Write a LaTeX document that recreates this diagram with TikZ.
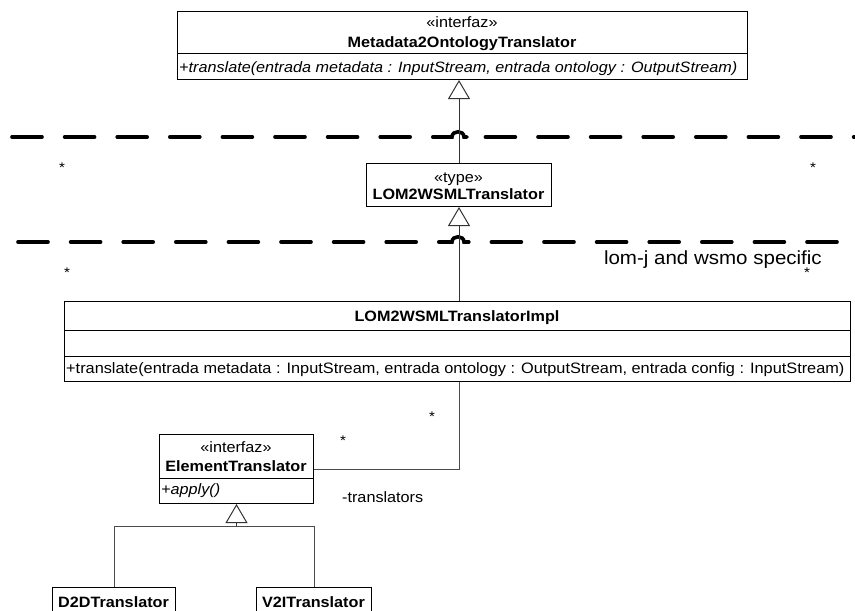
\documentclass[tikz,border=0pt]{standalone}
\usepackage{fontspec}
\setmainfont{Liberation Sans}[FakeStretch=1.08]
\usetikzlibrary{arrows.meta,calc}
\begin{document}
\begin{tikzpicture}[x=1pt,y=-1pt,
  box/.style={draw=black, line width=1pt, inner sep=0pt, anchor=north west},
  txt/.style={inner sep=0pt, anchor=base, font=\fontsize{15}{18}\selectfont},
  txtl/.style={inner sep=0pt, anchor=base west, font=\fontsize{15}{18}\selectfont},
  star/.style={inner sep=0pt, anchor=base, font=\fontsize{14}{16}\selectfont},
  sep/.style={line width=3.6pt, line cap=round, dash pattern=on 30pt off 22.6pt},
  hump/.style={line width=3.6pt, line cap=round},
  gen/.style={draw=black!80, line width=0.9pt, -{Triangle[open, length=19pt, width=22pt, line width=1pt]}},
  assoc/.style={draw=black!70, line width=0.9pt},
  divider/.style={line width=1pt}
]
\useasboundingbox (0,0) rectangle (855,611);

% separator lines
\draw[sep] (12,137) -- (858,137);
\draw[white, line width=5pt] (451,137) -- (465,137);
\draw[hump] (449,137) -- (452,137) .. controls (452,130) and (464,130) .. (464,137) -- (467,137);
\draw[sep] (18,242) -- (837,242);
\draw[white, line width=5pt] (451,242) -- (465,242);
\draw[hump] (449,242) -- (452,242) .. controls (452,235) and (464,235) .. (464,242) -- (467,242);

% stars and label of the separators
\node[star] (s1) at (62,172) {*};
\node[star] (s2) at (813,172) {*};
\node[star] (s3) at (67,277) {*};
\node[star] (s4) at (807,277) {*};
\node[inner sep=0pt, anchor=base east, font=\fontsize{19}{22}\selectfont] (lbl) at (822,264) {lom-j and wsmo specific};

% top interface
\node[box, minimum width=570pt, minimum height=68pt] (top) at (177,11) {};
\draw[divider] (top.west |- 0,53) -- (top.east |- 0,53);
\node[txt] (topst) at (462,27) {«interfaz»};
\node[txt, font=\fontsize{15}{18}\selectfont\bfseries] (topnm) at (462,47) {Metadata2OntologyTranslator};
\node[txtl, font=\fontsize{15}{18}\selectfont\itshape] (topop) at (179,72) {+translate(entrada metadata : InputStream, entrada ontology : OutputStream)};

% type
\node[box, minimum width=185pt, minimum height=43pt] (lom) at (366,163) {};
\node[txt] (lomst) at (458.5,182) {«type»};
\node[txt, font=\fontsize{15}{18}\selectfont\bfseries] (lomnm) at (458.5,199) {LOM2WSMLTranslator};

% impl
\node[box, minimum width=786pt, minimum height=80pt] (impl) at (64,301) {};
\draw[divider] (impl.west |- 0,330) -- (impl.east |- 0,330);
\draw[divider] (impl.west |- 0,356) -- (impl.east |- 0,356);
\node[txt, font=\fontsize{15}{18}\selectfont\bfseries] (implnm) at (457,321) {LOM2WSMLTranslatorImpl};
\node[txtl, font=\fontsize{15.1}{18}\selectfont] (implop) at (66,373) {+translate(entrada metadata : InputStream, entrada ontology : OutputStream, entrada config : InputStream)};

% element translator
\node[box, minimum width=154pt, minimum height=69pt] (elem) at (159,434) {};
\draw[divider] (elem.west |- 0,478) -- (elem.east |- 0,478);
\node[txt] (elemst) at (236,452) {«interfaz»};
\node[txt, font=\fontsize{15}{18}\selectfont\bfseries] (elemnm) at (236,471) {ElementTranslator};
\node[txtl, font=\fontsize{15}{18}\selectfont\itshape] (elemop) at (161,494) {+apply()};

% subclasses
\node[box, minimum width=123pt, minimum height=45pt] (d2d) at (52,587) {};
\node[txt, font=\fontsize{15}{18}\selectfont\bfseries] (d2dnm) at (113.5,607) {D2DTranslator};
\node[box, minimum width=115pt, minimum height=45pt] (v2i) at (256,587) {};
\node[txt, font=\fontsize{15}{18}\selectfont\bfseries] (v2inm) at (313.5,607) {V2ITranslator};

% generalizations
\draw[gen] (lom.north) -- (lom.north |- top.south);
\draw[gen] (impl.north -| lom.south) -- (lom.south);
\coordinate (jn) at ($(elem.south)+(0,22)$);
\draw[assoc] (d2d.north) |- (jn);
\draw[assoc] (v2i.north) |- (jn);
\draw[gen] (jn) -- (elem.south);

% association
\draw[assoc] (impl.south -| lom.south) |- (elem.east);
\node[star] (m1) at (432,421) {*};
\node[star] (m2) at (343,445) {*};
\node[txtl] (role) at (342,502) {-translators};
\end{tikzpicture}
\end{document}
